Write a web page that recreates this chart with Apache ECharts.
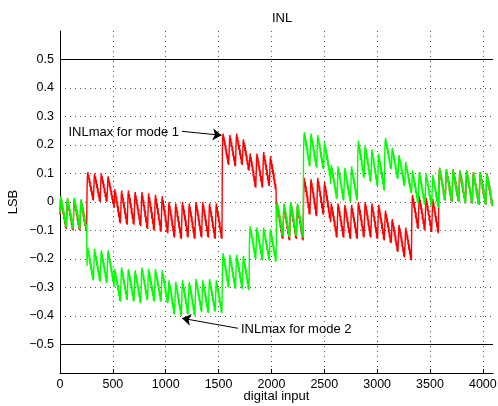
<!DOCTYPE html>
<html>
<head>
<meta charset="utf-8">
<title>INL</title>
<script src="https://cdn.jsdelivr.net/npm/echarts@6/dist/echarts.min.js"></script>
<style>
  html, body { margin: 0; padding: 0; background: #fff; }
  #chart { width: 498px; height: 406px; }
</style>
</head>
<body>
<div id="chart"></div>
<script>
// INL of a 12-bit converter, two modes, 16 blocks of 256 codes, 4 teeth per block
const TOOTH = 64
const STEP = 4

// tooth top level (LSB) per 64-code tooth, one row per 256-code block
const redTop = [
  0.015, 0.01, 0.01, 0.005,
  0.105, 0.1, 0.1, 0.09,
  0.045, 0.04, 0.04, 0.035,
  0.035, 0.03, 0.025, 0.02,
  0.0, -0.005, 0.0, -0.005,
  0.0, 0.0, -0.005, -0.005,
  0.24, 0.235, 0.24, 0.22,
  0.17, 0.17, 0.175, 0.16,
  -0.005, -0.01, -0.005, -0.01,
  0.085, 0.08, 0.085, 0.07,
  -0.005, -0.005, -0.01, -0.01,
  0.0, 0.0, -0.005, -0.01,
  -0.03, -0.06, -0.08, -0.09,
  0.025, 0.02, 0.015, 0.01,
  0.12, 0.115, 0.115, 0.11,
  0.11, 0.105, 0.105, 0.1
]
const redDepth = [0.11, 0.1, 0.12, 0.13, 0.125, 0.125, 0.11, 0.12,
                  0.125, 0.13, 0.12, 0.125, 0.115, 0.12, 0.115, 0.115]

const greenTop = [
  0.02, 0.015, 0.015, 0.01,
  -0.16, -0.165, -0.17, -0.17,
  -0.235, -0.23, -0.235, -0.24,
  -0.23, -0.235, -0.235, -0.24,
  -0.275, -0.28, -0.275, -0.28,
  -0.27, -0.275, -0.27, -0.275,
  -0.18, -0.185, -0.185, -0.19,
  -0.085, -0.09, -0.09, -0.095,
  0.0, -0.005, 0.0, -0.005,
  0.245, 0.24, 0.235, 0.21,
  0.13, 0.125, 0.12, 0.125,
  0.215, 0.2, 0.185, 0.17,
  0.225, 0.19, 0.165, 0.14,
  0.11, 0.105, 0.1, 0.095,
  0.12, 0.115, 0.115, 0.11,
  0.11, 0.105, 0.105, 0.1
]
const greenDepth = [0.11, 0.115, 0.115, 0.115, 0.12, 0.115, 0.12, 0.115,
                    0.12, 0.12, 0.12, 0.13, 0.11, 0.115, 0.115, 0.115]

// drop inside one tooth (fraction of depth), sampled every 4 codes
const toothShape = [0.55, 0.1, 0.0, 0.24, 0.1, 0.38, 0.22, 0.52,
                    0.36, 0.68, 0.5, 0.82, 0.66, 0.97, 0.8, 1.0]

const limitLevels = [0.5, -0.5]
const codeRange = [0, 4096]
const yTicks = [-0.5, -0.4, -0.3, -0.2, -0.1, 0, 0.1, 0.2, 0.3, 0.4, 0.5]

const buildSeries = (tops, depth) => {
  const out = []
  tops.forEach((top, i) => {
    const seg = Math.floor(i / 4)
    toothShape.forEach((d, k) => {
      out.push([i * TOOTH + k * STEP, +(top - d * depth[seg]).toFixed(4)])
    })
  })
  return out
}

const minus = (s) => String(s).replace('-', '\u2212')

const chart = echarts.init(document.getElementById('chart'))

const axisFont = { fontFamily: 'Liberation Sans, Arial, sans-serif', color: '#000' }

const option = {
  animation: false,
  backgroundColor: '#fff',
  title: {
    text: 'INL',
    left: 277,
    textAlign: 'center',
    top: 7,
    textStyle: { ...axisFont, fontSize: 13, fontWeight: 'normal' }
  },
  grid: { left: 60, right: 5, top: 31, bottom: 33, containLabel: false, outerBoundsMode: 'none' },
  xAxis: {
    type: 'value',
    min: codeRange[0],
    max: codeRange[1],
    interval: 500,
    name: 'digital input',
    nameLocation: 'middle',
    nameGap: 17,
    nameMoveOverlap: false,
    nameTextStyle: { ...axisFont, fontSize: 13 },
    axisLine: { show: true, onZero: false, lineStyle: { color: '#000', width: 1 } },
    axisTick: { show: true, inside: true, length: 4, lineStyle: { color: '#000' } },
    axisLabel: {
      ...axisFont, fontSize: 12.5, margin: 5, showMaxLabel: false,
      formatter: v => (v % 500 === 0 ? String(v) : '')
    },
    splitLine: {
      show: true, showMinLine: false, showMaxLine: false,
      lineStyle: { color: '#555', type: [1, 4], width: 1 }
    }
  },
  yAxis: {
    type: 'value',
    min: -0.6,
    max: 0.6,
    interval: 0.1,
    name: 'LSB',
    nameLocation: 'middle',
    nameGap: 40,
    nameMoveOverlap: false,
    nameTextStyle: { ...axisFont, fontSize: 13 },
    axisLine: { show: true, onZero: false, lineStyle: { color: '#000', width: 1 } },
    axisTick: { show: false },
    axisLabel: {
      ...axisFont, fontSize: 12.5, margin: 6,
      formatter: v => {
        const r = Math.round(v * 10) / 10
        return yTicks.includes(r) ? minus(r) : ''
      }
    },
    splitLine: {
      show: true, showMinLine: false, showMaxLine: false,
      lineStyle: { color: '#555', type: [1, 4], width: 1 }
    }
  },
  series: [
    {
      name: 'mode 1',
      type: 'line',
      data: buildSeries(redTop, redDepth),
      showSymbol: false,
      lineStyle: { color: '#ff0000', width: 1.4 },
      z: 2
    },
    {
      name: 'mode 2',
      type: 'line',
      data: buildSeries(greenTop, greenDepth),
      showSymbol: false,
      lineStyle: { color: '#00ff00', width: 1.4 },
      z: 3
    },
    {
      name: 'upper limit',
      type: 'line',
      data: codeRange.map(c => [c, limitLevels[0]]),
      showSymbol: false,
      lineStyle: { color: '#000', width: 1 },
      z: 4,
      markLine: {
        silent: true,
        symbol: ['none', 'arrow'],
        symbolSize: 9,
        label: { show: false },
        lineStyle: { color: '#000', width: 1, type: 'solid' },
        data: [
          [{ coord: [1154, 0.248] }, { coord: [1529, 0.234] }],
          [{ coord: [1683, -0.443] }, { coord: [1154, -0.408] }]
        ]
      },
      markPoint: {
        silent: true,
        symbol: 'circle',
        symbolSize: 0,
        data: [
          {
            coord: [1154, 0.243],
            label: { show: true, position: 'left', distance: 3, formatter: 'INLmax for mode 1', ...axisFont, fontSize: 13 }
          },
          {
            coord: [1683, -0.446],
            label: { show: true, position: 'right', distance: 3, formatter: 'INLmax for mode 2', ...axisFont, fontSize: 13 }
          }
        ]
      }
    },
    {
      name: 'lower limit',
      type: 'line',
      data: codeRange.map(c => [c, limitLevels[1]]),
      showSymbol: false,
      lineStyle: { color: '#000', width: 1 },
      z: 4
    }
  ]
}

chart.setOption(option)
</script>
</body>
</html>
